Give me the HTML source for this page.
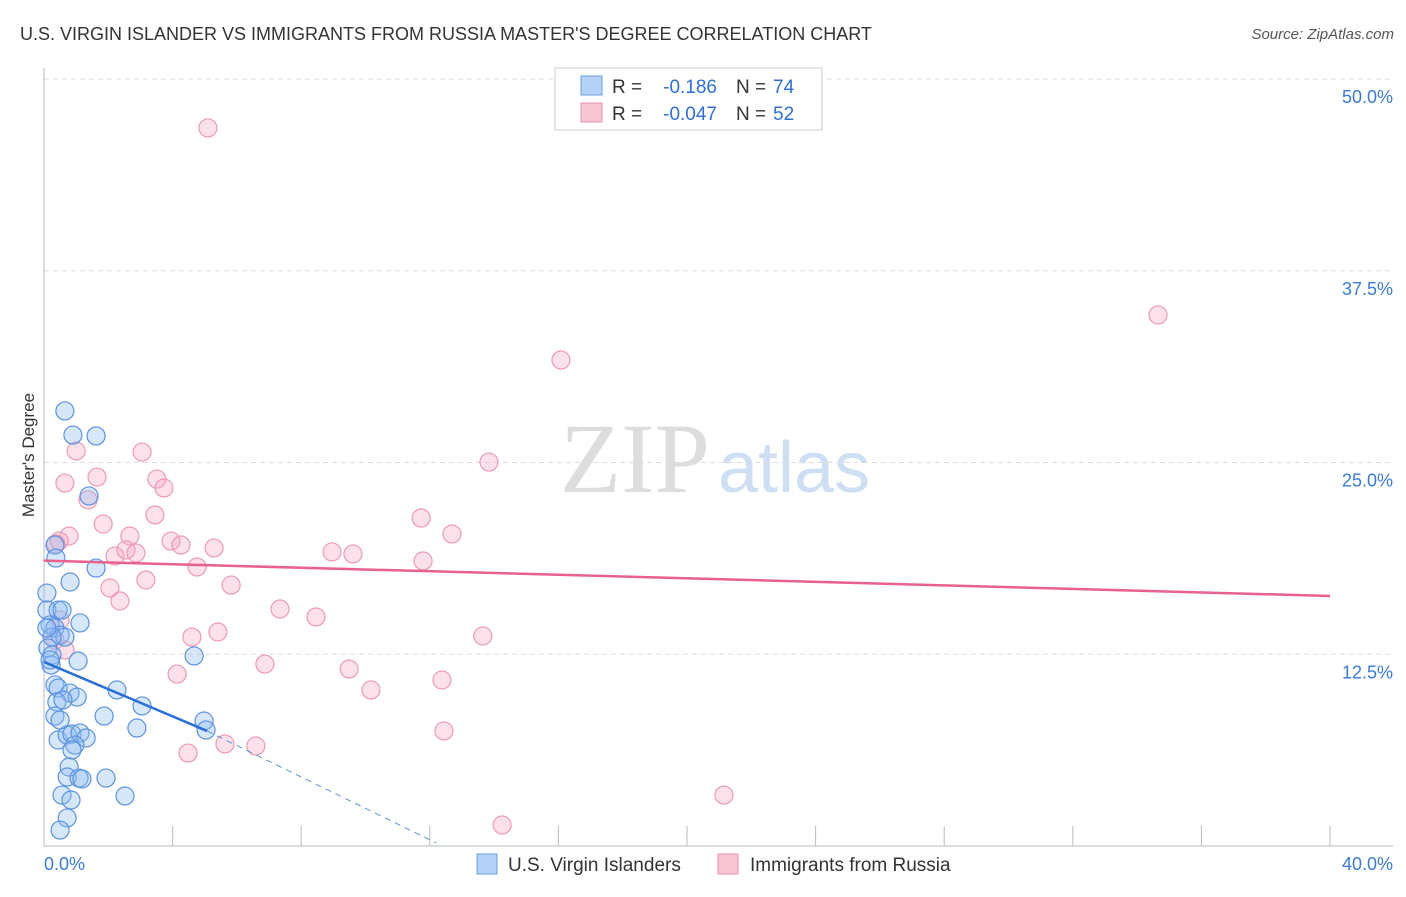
<!DOCTYPE html>
<html><head><meta charset="utf-8"><style>
body{margin:0;background:#fff;font-family:"Liberation Sans",sans-serif;}
</style></head><body>
<svg width="1406" height="892" xmlns="http://www.w3.org/2000/svg">
<text x="20" y="40" font-size="18" fill="#333">U.S. VIRGIN ISLANDER VS IMMIGRANTS FROM RUSSIA MASTER'S DEGREE CORRELATION CHART</text>
<text x="1394" y="39" font-size="15" fill="#555" font-style="italic" text-anchor="end">Source: ZipAtlas.com</text>
<text x="560" y="492" font-size="100" fill="#ddd" font-family="Liberation Serif,serif">ZIP</text>
<text x="718" y="492" font-size="72" fill="#cfdff3">atlas</text>
<g id="grid"></g><g id="axes"></g>
<text transform="translate(34,455) rotate(-90)" font-size="17" fill="#333" text-anchor="middle">Master's Degree</text>
<g id="pts"></g><g id="trend"></g>
<g>
<rect x="555" y="68" width="267" height="62" fill="#fff" stroke="#ccc"/>
<rect x="581" y="76" width="21" height="19" fill="#b5d1f5" stroke="#6a9de0"/>
<rect x="581" y="103" width="21" height="19" fill="#f9c6d5" stroke="#e890ab"/>
<text x="612" y="93" font-size="19" fill="#333">R =</text>
<text x="717" y="93" font-size="19" fill="#2f6fd6" text-anchor="end">-0.186</text>
<text x="736" y="93" font-size="19" fill="#333">N =</text>
<text x="773" y="93" font-size="19" fill="#2f6fd6">74</text>
<text x="612" y="120" font-size="19" fill="#333">R =</text>
<text x="717" y="120" font-size="19" fill="#2f6fd6" text-anchor="end">-0.047</text>
<text x="736" y="120" font-size="19" fill="#333">N =</text>
<text x="773" y="120" font-size="19" fill="#2f6fd6">52</text>
</g>
<g>
<rect x="477" y="854" width="20" height="20" fill="#b5d1f5" stroke="#6a9de0"/>
<text x="508" y="871" font-size="19" fill="#333">U.S. Virgin Islanders</text>
<rect x="718" y="854" width="20" height="20" fill="#f9c6d5" stroke="#e890ab"/>
<text x="750" y="871" font-size="19" fill="#333">Immigrants from Russia</text>
</g>
</svg>
<script>
const ns="http://www.w3.org/2000/svg";
const yTicks=[12.5,25,37.5,50];
const yTickLabels=["12.5%","25.0%","37.5%","50.0%"];
const xTickLabels=["0.0%","40.0%"];
const bluePx=[[65,411],[73,435],[96,436],[89,496],[55,545],[56,558],[96,568],[70,582],[47,593],[47,610],[58,610],[62,610],[80,623],[50,625],[55,628],[60,635],[65,637],[52,637],[48,648],[78,661],[194,656],[52,655],[51,665],[55,685],[58,688],[70,693],[77,697],[117,690],[142,706],[57,702],[63,700],[55,716],[104,716],[204,721],[206,730],[137,728],[58,740],[67,735],[72,734],[80,733],[86,738],[75,745],[72,750],[69,767],[67,777],[79,778],[82,779],[106,778],[62,795],[71,800],[125,796],[67,818],[60,830],[47,628],[50,660],[60,720]];
const pinkPx=[[208,128],[1158,315],[561,360],[489,462],[76,451],[142,452],[97,477],[65,483],[157,479],[164,488],[88,500],[155,515],[103,524],[421,518],[452,534],[130,536],[69,536],[59,541],[56,544],[115,556],[126,550],[136,553],[171,541],[181,545],[214,548],[332,552],[353,554],[423,561],[197,567],[146,580],[231,585],[110,588],[120,601],[280,609],[316,617],[192,637],[218,632],[483,636],[265,664],[349,669],[177,674],[442,680],[371,690],[444,731],[225,744],[256,746],[188,753],[724,795],[502,825],[60,620],[55,640],[65,650]];
const blueX=bluePx.map(p=>+((p[0]-44)/32.15).toFixed(2));
const blueY=bluePx.map(p=>+((846-p[1])/15.34).toFixed(2));
const pinkX=pinkPx.map(p=>+((p[0]-44)/32.15).toFixed(2));
const pinkY=pinkPx.map(p=>+((846-p[1])/15.34).toFixed(2));
const blueTrend=[[0,12.0],[5.07,7.5]];
const blueDash=[[5.07,7.5],[12.2,0.2]];
const pinkTrend=[[0,18.6],[40,16.3]];
function X(v){return 44+v*32.15;}
function Y(v){return 846-v*15.34;}
function mk(tag,attrs,parent){const e=document.createElementNS(ns,tag);for(const k in attrs)e.setAttribute(k,attrs[k]);parent.appendChild(e);return e;}
const grid=document.getElementById('grid'),axes=document.getElementById('axes');
yTicks.forEach((t,i)=>{
 const l=mk('line',{x1:44,x2:1393,y1:Y(t),y2:Y(t),stroke:'#ddd','stroke-dasharray':'5,4'},grid);
 
 
 const tx=mk('text',{x:1393,y:Y(t)+24,'font-size':18,fill:'#3a7bd5','text-anchor':'end'},axes);
 tx.textContent=yTickLabels[i];
 
 
});
mk('line',{x1:44,x2:44,y1:68,y2:846,stroke:'#bbb'},axes);
mk('line',{x1:44,x2:1393,y1:846,y2:846,stroke:'#bbb'},axes);
for(let i=1;i<=10;i++){const t=mk('line',{x1:X(i*4),x2:X(i*4),y1:826,y2:846,stroke:'#bbb'},axes);
 
 }
let a=mk('text',{x:44,y:870,'font-size':18,fill:'#3a7bd5'},axes);a.textContent=xTickLabels[0];


a=mk('text',{x:1393,y:870,'font-size':18,fill:'#3a7bd5','text-anchor':'end'},axes);a.textContent=xTickLabels[1];


const pts=document.getElementById('pts');
pinkX.forEach((x,i)=>{const c=mk('circle',{cx:X(x),cy:Y(pinkY[i]),r:9,fill:'rgba(246,170,195,0.35)',stroke:'#ec9ab5','stroke-width':1.2},pts);
 
 });
blueX.forEach((x,i)=>{const c=mk('circle',{cx:X(x),cy:Y(blueY[i]),r:9,fill:'rgba(140,185,240,0.35)',stroke:'#5b93e0','stroke-width':1.2},pts);
 
 });
const tr=document.getElementById('trend');
let l=mk('line',{x1:X(pinkTrend[0][0]),y1:Y(pinkTrend[0][1]),x2:X(pinkTrend[1][0]),y2:Y(pinkTrend[1][1]),stroke:'#e8608b','stroke-width':2.5},tr);


l=mk('line',{x1:X(blueTrend[0][0]),y1:Y(blueTrend[0][1]),x2:X(blueTrend[1][0]),y2:Y(blueTrend[1][1]),stroke:'#2a6fd6','stroke-width':2.5},tr);


l=mk('line',{x1:X(blueDash[0][0]),y1:Y(blueDash[0][1]),x2:X(blueDash[1][0]),y2:Y(blueDash[1][1]),stroke:'#5b93e0','stroke-width':1,'stroke-dasharray':'6,5'},tr);


</script>
</body></html>
